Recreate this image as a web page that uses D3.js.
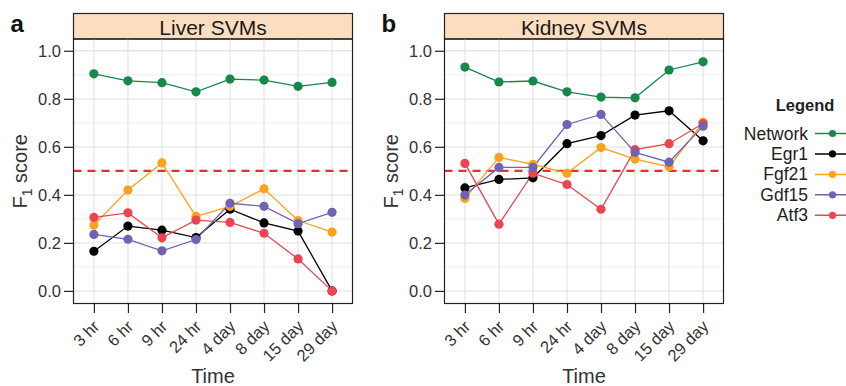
<!DOCTYPE html>
<html>
<head>
<meta charset="utf-8">
<script src="https://cdn.jsdelivr.net/npm/d3@7"></script>
<style>
  body { margin: 0; background: #fff; }
  svg { font-family: "Liberation Sans", Arial, sans-serif; }
</style>
</head>
<body>
<svg id="chart" width="846" height="386"></svg>
<script>
// time points on the x axis
var times = ["3 hr", "6 hr", "9 hr", "24 hr", "4 day", "8 day", "15 day", "29 day"];
var seriesNames = ["Network", "Egr1", "Fgf21", "Gdf15", "Atf3"];
var yTicks = [0.0, 0.2, 0.4, 0.6, 0.8, 1.0];
var threshold = 0.5;

// liver F1 scores
var liverNetwork = [0.904, 0.875, 0.867, 0.829, 0.882, 0.878, 0.852, 0.868];
var liverEgr1    = [0.165, 0.270, 0.253, 0.222, 0.340, 0.283, 0.249, 0.000];
var liverFgf21   = [0.274, 0.420, 0.533, 0.310, 0.352, 0.425, 0.293, 0.245];
var liverGdf15   = [0.235, 0.215, 0.167, 0.214, 0.365, 0.352, 0.280, 0.327];
var liverAtf3    = [0.306, 0.325, 0.221, 0.295, 0.285, 0.240, 0.133, 0.000];

// kidney F1 scores
var kidneyNetwork = [0.932, 0.870, 0.874, 0.829, 0.807, 0.804, 0.920, 0.954];
var kidneyEgr1    = [0.429, 0.464, 0.471, 0.613, 0.647, 0.732, 0.750, 0.625];
var kidneyFgf21   = [0.385, 0.556, 0.527, 0.490, 0.597, 0.549, 0.517, 0.702];
var kidneyGdf15   = [0.399, 0.514, 0.515, 0.693, 0.735, 0.577, 0.536, 0.686];
var kidneyAtf3    = [0.531, 0.278, 0.490, 0.443, 0.340, 0.588, 0.613, 0.697];

var colors = {
  Network: "#15884a",
  Egr1: "#000000",
  Fgf21: "#f9a31c",
  Gdf15: "#6f63b3",
  Atf3: "#ec4452"
};
// drawing order (later on top)
var drawOrder = ["Network", "Egr1", "Fgf21", "Atf3", "Gdf15"];

var panels = [
  { tag: "a", title: "Liver SVMs", left: 73.5, right: 352.5,
    data: { Network: liverNetwork, Egr1: liverEgr1, Fgf21: liverFgf21, Gdf15: liverGdf15, Atf3: liverAtf3 } },
  { tag: "b", title: "Kidney SVMs", left: 444.5, right: 723.5,
    data: { Network: kidneyNetwork, Egr1: kidneyEgr1, Fgf21: kidneyFgf21, Gdf15: kidneyGdf15, Atf3: kidneyAtf3 } }
];

var svg = d3.select("#chart");
var plotTop = 39, plotBottom = 303.5, stripTop = 13.5;

var y = d3.scaleLinear().domain([-0.0525, 1.049]).range([plotBottom, plotTop]);

panels.forEach(function (p) {
  var x = d3.scalePoint().domain(times).range([p.left, p.right]).padding(0.6);
  var g = svg.append("g");

  // strip
  g.append("rect")
    .attr("x", p.left).attr("y", stripTop)
    .attr("width", p.right - p.left).attr("height", plotTop - stripTop)
    .attr("fill", "#fdddbf").attr("stroke", "#222").attr("stroke-width", 1.2);
  g.append("text")
    .attr("x", (p.left + p.right) / 2).attr("y", 34.5)
    .attr("text-anchor", "middle").attr("font-size", 21).attr("fill", "#1a1a1a")
    .text(p.title);

  // grid
  var minor = d3.range(0.1, 1.05, 0.2);
  g.selectAll(".minor").data(minor).enter().append("line")
    .attr("x1", p.left).attr("x2", p.right)
    .attr("y1", function (d) { return y(d); }).attr("y2", function (d) { return y(d); })
    .attr("stroke", "#ebebeb").attr("stroke-width", 0.8);
  g.selectAll(".major").data(yTicks).enter().append("line")
    .attr("x1", p.left).attr("x2", p.right)
    .attr("y1", function (d) { return y(d); }).attr("y2", function (d) { return y(d); })
    .attr("stroke", "#e6e6e6").attr("stroke-width", 1.3);
  g.selectAll(".vgrid").data(times).enter().append("line")
    .attr("y1", plotTop).attr("y2", plotBottom)
    .attr("x1", function (d) { return x(d); }).attr("x2", function (d) { return x(d); })
    .attr("stroke", "#e6e6e6").attr("stroke-width", 1.3);

  // threshold
  g.append("line")
    .attr("x1", p.left).attr("x2", p.right)
    .attr("y1", y(threshold)).attr("y2", y(threshold))
    .attr("stroke", "#ee2a2f").attr("stroke-width", 2.2)
    .attr("stroke-dasharray", "8,6");

  // lines
  var line = d3.line()
    .x(function (d, i) { return x(times[i]); })
    .y(function (d) { return y(d); });
  drawOrder.forEach(function (s) {
    g.append("path")
      .attr("d", line(p.data[s]))
      .attr("fill", "none").attr("stroke", colors[s]).attr("stroke-width", 1.3);
  });
  drawOrder.forEach(function (s) {
    g.selectAll(".pt-" + s).data(p.data[s]).enter().append("circle")
      .attr("cx", function (d, i) { return x(times[i]); })
      .attr("cy", function (d) { return y(d); })
      .attr("r", 4.6).attr("fill", colors[s]);
  });

  // panel border
  g.append("rect")
    .attr("x", p.left).attr("y", plotTop)
    .attr("width", p.right - p.left).attr("height", plotBottom - plotTop)
    .attr("fill", "none").attr("stroke", "#222").attr("stroke-width", 1.2);

  // y axis
  var ya = g.append("g").attr("transform", "translate(" + p.left + ",0)")
    .call(d3.axisLeft(y).tickValues(yTicks).tickFormat(d3.format(".1f")).tickSize(9.5).tickPadding(3));
  ya.select(".domain").remove();
  ya.selectAll(".tick line").attr("stroke", "#222").attr("stroke-width", 1.2);
  ya.selectAll(".tick text").attr("font-size", 16.5).attr("fill", "#333")
    .attr("font-family", "Liberation Sans, Arial, sans-serif");

  // x axis
  var xa = g.append("g").attr("transform", "translate(0," + plotBottom + ")")
    .call(d3.axisBottom(x).tickSize(9.5));
  xa.select(".domain").remove();
  xa.selectAll(".tick line").attr("stroke", "#222").attr("stroke-width", 1.2);
  xa.selectAll(".tick text")
    .attr("font-size", 16.5).attr("fill", "#333")
    .attr("font-family", "Liberation Sans, Arial, sans-serif")
    .attr("text-anchor", "end")
    .attr("dy", null).attr("y", 0)
    .attr("transform", "translate(6,24) rotate(-45)");

  // axis titles
  g.append("text")
    .attr("x", (p.left + p.right) / 2).attr("y", 382.5)
    .attr("text-anchor", "middle").attr("font-size", 20).attr("fill", "#333")
    .text("Time");
  var yt = g.append("text")
    .attr("transform", "translate(" + (p.left - 47) + "," + ((plotTop + plotBottom) / 2) + ") rotate(-90)")
    .attr("text-anchor", "middle").attr("font-size", 20).attr("fill", "#333");
  yt.append("tspan").text("F");
  yt.append("tspan").attr("font-size", 14).attr("dy", 5).text("1");
  yt.append("tspan").attr("dy", -5).text(" score");

  // panel tag
  g.append("text")
    .attr("x", p.left - 63).attr("y", 32)
    .attr("font-size", 24).attr("font-weight", "bold").attr("fill", "#111")
    .text(p.tag);
});

// legend
var lg = svg.append("g");
lg.append("text")
  .attr("x", 805).attr("y", 111)
  .attr("text-anchor", "middle").attr("font-size", 16.5).attr("font-weight", "bold").attr("fill", "#222")
  .text("Legend");
var ly = d3.scalePoint().domain(seriesNames).range([133.5, 215.3]);
seriesNames.forEach(function (s) {
  var yy = ly(s);
  lg.append("text")
    .attr("x", 808).attr("y", yy + 6)
    .attr("text-anchor", "end").attr("font-size", 17.5).attr("fill", "#222")
    .text(s);
  lg.append("line")
    .attr("x1", 815).attr("x2", 850).attr("y1", yy).attr("y2", yy)
    .attr("stroke", colors[s]).attr("stroke-width", 1.5);
  lg.append("circle")
    .attr("cx", 832.5).attr("cy", yy).attr("r", 3.6).attr("fill", colors[s]);
});
</script>
</body>
</html>
